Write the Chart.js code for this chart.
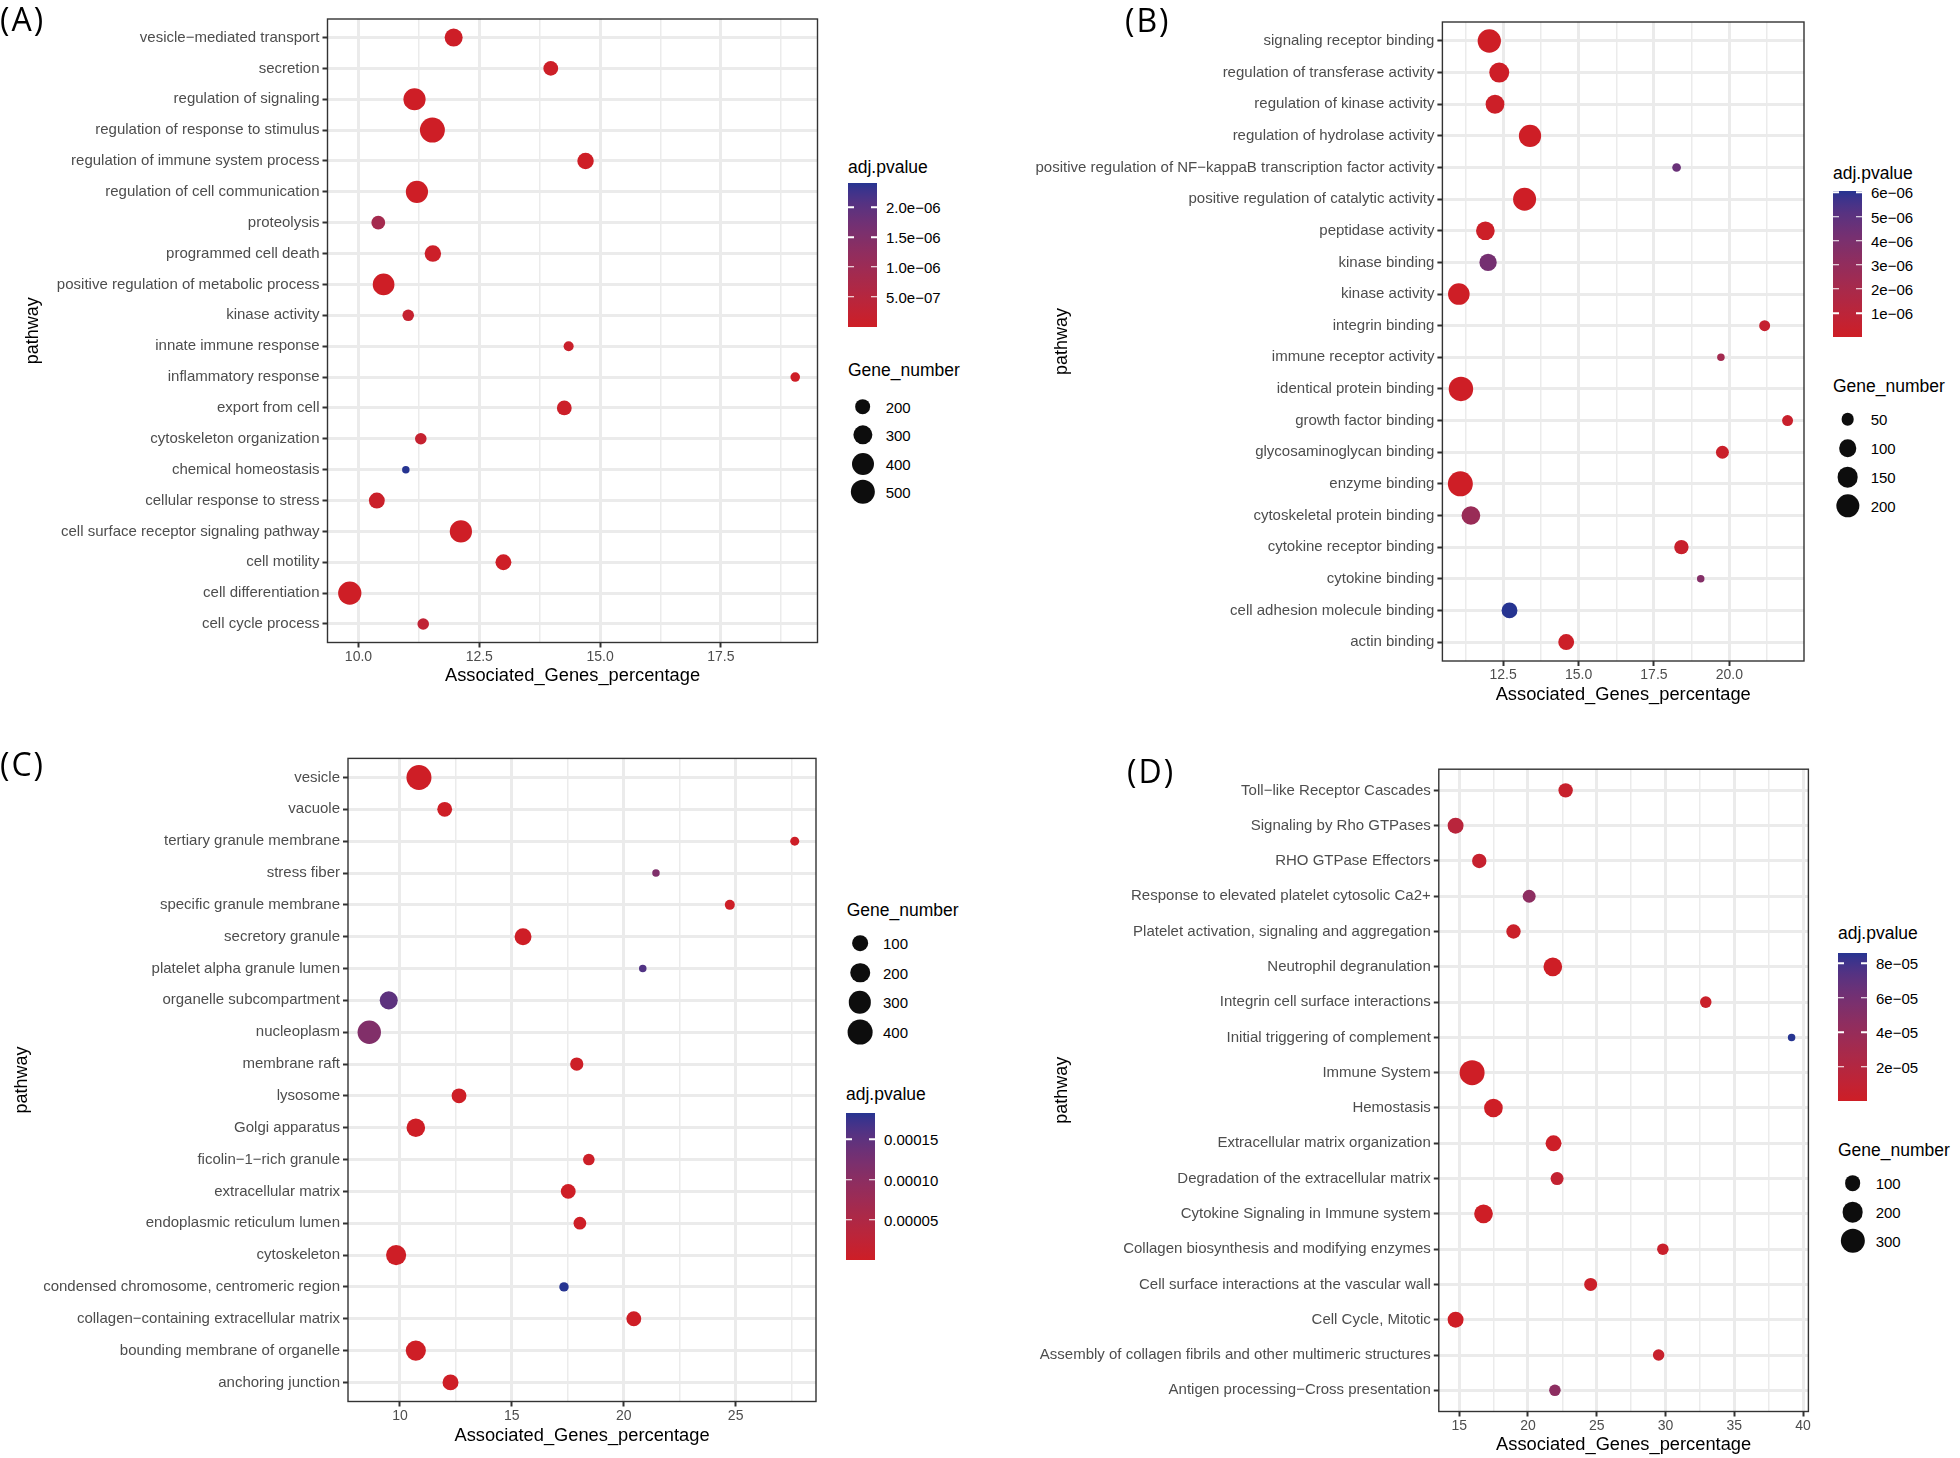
<!DOCTYPE html>
<html>
<head>
<meta charset="utf-8">
<script src="https://cdn.jsdelivr.net/npm/chart.js@4.4.1/dist/chart.umd.min.js"></script>
<style>
  body { margin: 0; background: #fff; width: 1960px; height: 1458px; position: relative; overflow: hidden;
         font-family: 'Liberation Sans', Arial, sans-serif; }
  canvas { position: absolute; }
  .tag { position: absolute; font-family: 'Open Sans', sans-serif; font-size: 32px; line-height: 32px; letter-spacing: 2px; color: #000; }
  .lg { position: absolute; white-space: nowrap; color: #000; transform: translateY(-50%); }
  .lt { font-size: 17.5px; }
  .ll { font-size: 15px; }
  .dot { position: absolute; border-radius: 50%; background: #0d0d0d; transform: translate(-50%, -50%); }
  .bar { position: absolute; }
  .tk { position: absolute; height: 1.5px; width: 6px; background: #fff; transform: translateY(-50%); }
</style>
</head>
<body>
<canvas id="cA" width="830" height="720" style="left:0;top:0"></canvas>
<canvas id="cB" width="830" height="720" style="left:1000px;top:0"></canvas>
<canvas id="cC" width="830" height="728" style="left:0;top:730px"></canvas>
<canvas id="cD" width="830" height="728" style="left:1000px;top:730px"></canvas>
<div class="tag" style="left:0;top:3px">(A)</div>
<div class="tag" style="left:1125px;top:4px">(B)</div>
<div class="tag" style="left:0;top:748px">(C)</div>
<div class="tag" style="left:1127px;top:755px">(D)</div>
<script>
// ---- panel A: GO biological process ----
const catsA = ['vesicle−mediated transport', 'secretion', 'regulation of signaling', 'regulation of response to stimulus',
  'regulation of immune system process', 'regulation of cell communication', 'proteolysis', 'programmed cell death',
  'positive regulation of metabolic process', 'kinase activity', 'innate immune response', 'inflammatory response',
  'export from cell', 'cytoskeleton organization', 'chemical homeostasis', 'cellular response to stress',
  'cell surface receptor signaling pathway', 'cell motility', 'cell differentiation', 'cell cycle process'];
const pctA = [11.97, 13.98, 11.16, 11.53, 14.70, 11.21, 10.41, 11.54, 10.52, 11.03, 14.35, 19.04, 14.26, 11.29, 10.98, 10.38, 12.12, 13.00, 9.82, 11.34];
const genesA = [260, 180, 407, 533, 217, 407, 161, 217, 387, 129, 115, 112, 180, 129, 106, 204, 407, 204, 454, 129];
const padjA = [2e-8, 3e-8, 1e-12, 1e-13, 1e-9, 1e-12, 8.5e-7, 5e-8, 1e-10, 2e-7, 1e-7, 1e-8, 5e-8, 2e-7, 2.4e-6, 8e-8, 1e-12, 1e-8, 1e-14, 3e-7];
const sizeBreaksA = [200, 300, 400, 500];
const pBreaksA = [5e-7, 1e-6, 1.5e-6, 2e-6];
const pLabelsA = ['5.0e−07', '1.0e−06', '1.5e−06', '2.0e−06'];

// ---- panel B: GO molecular function ----
const catsB = ['signaling receptor binding', 'regulation of transferase activity', 'regulation of kinase activity',
  'regulation of hydrolase activity', 'positive regulation of NF−kappaB transcription factor activity',
  'positive regulation of catalytic activity', 'peptidase activity', 'kinase binding', 'kinase activity', 'integrin binding',
  'immune receptor activity', 'identical protein binding', 'growth factor binding', 'glycosaminoglycan binding',
  'enzyme binding', 'cytoskeletal protein binding', 'cytokine receptor binding', 'cytokine binding',
  'cell adhesion molecule binding', 'actin binding'];
const pctB = [12.04, 12.37, 12.23, 13.39, 18.25, 13.21, 11.91, 12.0, 11.03, 21.17, 19.72, 11.1, 21.93, 19.77, 11.08, 11.43, 18.41, 19.05, 12.71, 14.59];
const genesB = [200, 137, 118, 179, 33, 193, 116, 97, 166, 40, 32, 226, 40, 52, 238, 116, 64, 32, 79, 79];
const padjB = [1e-9, 5e-8, 1e-7, 1e-9, 4.6e-6, 1e-10, 1e-7, 4.2e-6, 1e-8, 5e-7, 2.2e-6, 1e-12, 3e-7, 2e-7, 1e-13, 2.7e-6, 3e-7, 3.6e-6, 6.07e-6, 1e-7];
const sizeBreaksB = [50, 100, 150, 200];
const pBreaksB = [1e-6, 2e-6, 3e-6, 4e-6, 5e-6, 6e-6];
const pLabelsB = ['1e−06', '2e−06', '3e−06', '4e−06', '5e−06', '6e−06'];

// ---- panel C: GO cellular component ----
const catsC = ['vesicle', 'vacuole', 'tertiary granule membrane', 'stress fiber', 'specific granule membrane',
  'secretory granule', 'platelet alpha granule lumen', 'organelle subcompartment', 'nucleoplasm', 'membrane raft',
  'lysosome', 'Golgi apparatus', 'ficolin−1−rich granule', 'extracellular matrix', 'endoplasmic reticulum lumen',
  'cytoskeleton', 'condensed chromosome, centromeric region', 'collagen−containing extracellular matrix',
  'bounding membrane of organelle', 'anchoring junction'];
const pctC = [10.85, 12.0, 27.64, 21.44, 24.74, 15.5, 20.85, 9.5, 8.63, 17.9, 12.64, 10.71, 18.44, 17.52, 18.04, 9.83, 17.33, 20.45, 10.71, 12.26];
const genesC = [410, 82, 15, 12, 20, 128, 12, 157, 340, 55, 82, 171, 34, 82, 47, 220, 17, 82, 220, 104];
const padjC = [1e-10, 1e-8, 1e-6, 1.15e-4, 2e-6, 1e-9, 1.6e-4, 1.5e-4, 1.12e-4, 2e-6, 1e-8, 1e-9, 3e-6, 1e-8, 5e-7, 1e-9, 1.83e-4, 1e-10, 1e-12, 1e-7];
const sizeBreaksC = [100, 200, 300, 400];
const pBreaksC = [5e-5, 1e-4, 1.5e-4];
const pLabelsC = ['0.00005', '0.00010', '0.00015'];

// ---- panel D: Reactome ----
const catsD = ['Toll−like Receptor Cascades', 'Signaling by Rho GTPases', 'RHO GTPase Effectors',
  'Response to elevated platelet cytosolic Ca2+', 'Platelet activation, signaling and aggregation',
  'Neutrophil degranulation', 'Integrin cell surface interactions', 'Initial triggering of complement',
  'Immune System', 'Hemostasis', 'Extracellular matrix organization', 'Degradation of the extracellular matrix',
  'Cytokine Signaling in Immune system', 'Collagen biosynthesis and modifying enzymes',
  'Cell surface interactions at the vascular wall', 'Cell Cycle, Mitotic',
  'Assembly of collagen fibrils and other multimeric structures', 'Antigen processing−Cross presentation'];
const pctD = [22.74, 14.74, 16.46, 20.09, 18.95, 21.81, 32.93, 39.17, 15.94, 17.49, 21.86, 22.12, 16.77, 29.81, 24.56, 14.74, 29.5, 21.96];
const genesD = [81, 103, 81, 65, 81, 154, 52, 37, 322, 154, 103, 65, 154, 52, 65, 103, 52, 52];
const padjD = [5e-6, 1.6e-5, 6e-6, 4.6e-5, 3e-6, 1e-7, 3e-6, 8.58e-5, 1e-12, 1e-8, 1e-6, 8e-6, 1e-9, 4e-6, 2e-6, 1e-7, 5e-6, 4.6e-5];
const sizeBreaksD = [100, 200, 300];
const pBreaksD = [2e-5, 4e-5, 6e-5, 8e-5];
const pLabelsD = ['2e−05', '4e−05', '6e−05', '8e−05'];

const LOW = [206, 30, 38];   // red end of the adj.pvalue gradient
const HIGH = [38, 52, 145];  // blue end

Chart.defaults.font.family = "'Liberation Sans', Arial, sans-serif";

// colour gradient interpolated in Lab, like ggplot
function toLin(c) { c /= 255; return c <= 0.04045 ? c / 12.92 : Math.pow((c + 0.055) / 1.055, 2.4); }
function fromLin(c) { const v = c <= 0.0031308 ? 12.92 * c : 1.055 * Math.pow(c, 1 / 2.4) - 0.055; return Math.round(Math.max(0, Math.min(1, v)) * 255); }
function rgbToLab(rgb) {
  const R = toLin(rgb[0]), G = toLin(rgb[1]), B = toLin(rgb[2]);
  const X = (0.4124 * R + 0.3576 * G + 0.1805 * B) / 0.95047;
  const Y = 0.2126 * R + 0.7152 * G + 0.0722 * B;
  const Z = (0.0193 * R + 0.1192 * G + 0.9505 * B) / 1.08883;
  const f = t => t > 0.008856 ? Math.cbrt(t) : 7.787 * t + 16 / 116;
  const fx = f(X), fy = f(Y), fz = f(Z);
  return [116 * fy - 16, 500 * (fx - fy), 200 * (fy - fz)];
}
function labToRgb(lab) {
  const fy = (lab[0] + 16) / 116, fx = fy + lab[1] / 500, fz = fy - lab[2] / 200;
  const g = t => t > 0.206893 ? t * t * t : (t - 16 / 116) / 7.787;
  const X = g(fx) * 0.95047, Y = g(fy), Z = g(fz) * 1.08883;
  const R = 3.2406 * X - 1.5372 * Y - 0.4986 * Z;
  const G = -0.9689 * X + 1.8758 * Y + 0.0415 * Z;
  const B = 0.0557 * X - 0.2040 * Y + 1.0570 * Z;
  return [fromLin(R), fromLin(G), fromLin(B)];
}
const labLow = rgbToLab(LOW), labHigh = rgbToLab(HIGH);
function gradColor(t) {
  t = Math.max(0, Math.min(1, t));
  const c = labToRgb(labLow.map((v, i) => v + (labHigh[i] - v) * t));
  return 'rgb(' + c.join(',') + ')';
}

// point radius: area scaled between data min and max
function makeRadius(genes) {
  const lo = Math.min(...genes), hi = Math.max(...genes);
  return n => 3.75 + 8.75 * Math.sqrt(Math.max(0, (n - lo) / (hi - lo)));
}

const frame = {
  id: 'frame',
  afterDatasetsDraw(chart) {
    const { ctx, chartArea: a } = chart;
    ctx.save();
    ctx.strokeStyle = '#333';
    ctx.lineWidth = 1.4;
    ctx.strokeRect(a.left, a.top, a.right - a.left, a.bottom - a.top);
    ctx.restore();
  }
};

function drawPanel(p) {
  const radius = makeRadius(p.genes);
  const lo = Math.min(...p.padj), hi = Math.max(...p.padj);
  const xmin = Math.min(...p.pct), xmax = Math.max(...p.pct);
  const ex = (xmax - xmin) * 0.05;
  const isMajor = v => Math.abs(v / p.major - Math.round(v / p.major)) < 1e-6;
  const n = p.cats.length;

  new Chart(document.getElementById(p.id), {
    type: 'bubble',
    data: {
      datasets: [{
        data: p.cats.map((c, i) => ({ x: p.pct[i], y: i, r: radius(p.genes[i]) })),
        backgroundColor: p.padj.map(v => gradColor((v - lo) / (hi - lo))),
        borderWidth: 0
      }]
    },
    options: {
      responsive: false,
      animation: false,
      devicePixelRatio: 1,
      layout: { padding: { left: 0, top: p.pad.top, right: p.pad.right, bottom: p.pad.bottom } },
      plugins: { legend: { display: false }, tooltip: { enabled: false } },
      scales: {
        x: {
          type: 'linear', min: xmin - ex, max: xmax + ex,
          border: { display: false },
          ticks: {
            stepSize: p.major / 2, includeBounds: false, autoSkip: false, maxRotation: 0, padding: 1,
            color: '#4d4d4d', font: { size: 14 },
            callback: v => isMajor(v) ? v.toFixed(p.dec) : ''
          },
          grid: {
            color: '#ebebeb',
            lineWidth: c => (c.tick && isMajor(c.tick.value)) ? 3 : 1.5,
            tickColor: c => (c.tick && isMajor(c.tick.value)) ? '#333' : 'rgba(0,0,0,0)',
            tickLength: 5, tickWidth: 2
          },
          title: { display: true, text: 'Associated_Genes_percentage', color: '#000', font: { size: 18.3 }, padding: { top: 0, bottom: 0 } },
          afterFit: s => { s.height = p.xHeight; }
        },
        y: {
          type: 'linear', min: -0.6, max: n - 0.4, reverse: true,
          border: { display: false },
          ticks: {
            stepSize: 1, includeBounds: false, autoSkip: false, padding: 3,
            color: '#4d4d4d', font: { size: 15 },
            callback: v => p.cats[v]
          },
          grid: { color: '#ebebeb', lineWidth: 3, tickColor: '#333', tickLength: 5, tickWidth: 2 },
          title: { display: true, text: 'pathway', color: '#000', font: { size: 18 }, padding: { top: p.yTitlePad, bottom: 0 } },
          afterFit: s => { s.width = p.yWidth; }
        }
      }
    },
    plugins: [frame]
  });

  // legends as plain html
  const add = (cls, x, y, txt, extra) => {
    const d = document.createElement('div');
    d.className = cls;
    d.style.left = x + 'px';
    d.style.top = y + 'px';
    if (txt !== undefined) d.textContent = txt;
    if (extra) Object.assign(d.style, extra);
    document.body.appendChild(d);
    return d;
  };

  const cb = p.colorbar;
  add('lg lt', cb.x, cb.titleY, 'adj.pvalue');
  const stops = [];
  for (let k = 0; k <= 20; k++) stops.push(gradColor(k / 20) + ' ' + (k * 5) + '%');
  add('bar', cb.x, cb.top, undefined, { width: cb.w + 'px', height: cb.h + 'px', background: 'linear-gradient(to top,' + stops.join(',') + ')' });
  p.pBreaks.forEach((v, i) => {
    const y = cb.top + cb.h - (v - lo) / (hi - lo) * cb.h;
    add('tk', cb.x, y);
    add('tk', cb.x + cb.w - 6, y);
    add('lg ll', cb.x + cb.w + 9, y, p.pLabels[i]);
  });

  const sl = p.sizeLegend;
  add('lg lt', sl.x, sl.titleY, 'Gene_number');
  p.sizeBreaks.forEach((v, i) => {
    const y = sl.first + i * sl.step;
    const d = 2 * radius(v);
    add('dot', sl.cx, y, undefined, { width: d + 'px', height: d + 'px' });
    add('lg ll', sl.cx + 23, y, String(v));
  });
}

drawPanel({
  id: 'cA', cats: catsA, pct: pctA, genes: genesA, padj: padjA, major: 2.5, dec: 1,
  yWidth: 327.5, pad: { top: 19, right: 10, bottom: 33.5 }, xHeight: 44, yTitlePad: 22,
  pBreaks: pBreaksA, pLabels: pLabelsA, sizeBreaks: sizeBreaksA,
  colorbar: { x: 848, titleY: 167, top: 183.3, h: 143.4, w: 29 },
  sizeLegend: { x: 848, titleY: 370, cx: 862.7, first: 406.7, step: 28.4 }
});
drawPanel({
  id: 'cB', cats: catsB, pct: pctB, genes: genesB, padj: padjB, major: 2.5, dec: 1,
  yWidth: 442.4, pad: { top: 22, right: 26, bottom: 14 }, xHeight: 45, yTitlePad: 51,
  pBreaks: pBreaksB, pLabels: pLabelsB, sizeBreaks: sizeBreaksB,
  colorbar: { x: 1833, titleY: 173.3, top: 190.7, h: 146.6, w: 29 },
  sizeLegend: { x: 1833, titleY: 386, cx: 1847.7, first: 419.3, step: 28.9 }
});
drawPanel({
  id: 'cC', cats: catsC, pct: pctC, genes: genesC, padj: padjC, major: 5, dec: 0,
  yWidth: 348, pad: { top: 28.4, right: 14, bottom: 11.5 }, xHeight: 45, yTitlePad: 11,
  pBreaks: pBreaksC, pLabels: pLabelsC, sizeBreaks: sizeBreaksC,
  colorbar: { x: 846, titleY: 1094, top: 1112.7, h: 147.3, w: 29 },
  sizeLegend: { x: 846.7, titleY: 910, cx: 860, first: 943.3, step: 29.5 }
});
drawPanel({
  id: 'cD', cats: catsD, pct: pctD, genes: genesD, padj: padjD, major: 5, dec: 0,
  yWidth: 438.8, pad: { top: 39.2, right: 21.6, bottom: 2.5 }, xHeight: 44, yTitlePad: 51,
  pBreaks: pBreaksD, pLabels: pLabelsD, sizeBreaks: sizeBreaksD,
  colorbar: { x: 1838, titleY: 933.3, top: 953.3, h: 147.7, w: 29 },
  sizeLegend: { x: 1838, titleY: 1150, cx: 1852.7, first: 1183.3, step: 28.9 }
});
</script>
</body>
</html>
